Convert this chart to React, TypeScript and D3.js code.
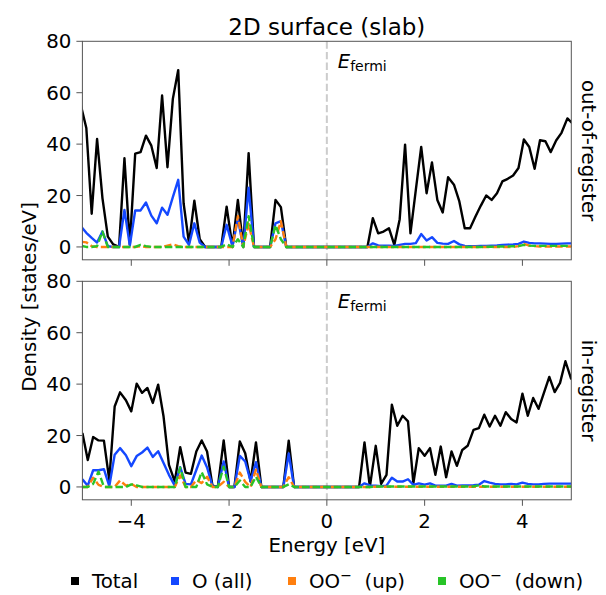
import React from "react";
import * as d3 from "d3";

// ---------- data ----------
const energyTop = [-5.03,-4.92,-4.81,-4.70,-4.59,-4.48,-4.37,-4.25,-4.14,-4.03,-3.92,-3.81,-3.70,-3.59,-3.48,-3.37,-3.26,-3.15,-3.04,-2.93,-2.82,-2.71,-2.60,-2.49,-2.38,-2.27,-2.16,-2.05,-1.93,-1.82,-1.71,-1.60,-1.49,-1.38,-1.27,-1.16,-1.05,-0.94,-0.83,-0.72,-0.61,-0.50,-0.39,-0.28,-0.17,-0.06,0.05,0.16,0.28,0.39,0.50,0.61,0.72,0.83,0.94,1.05,1.16,1.27,1.38,1.49,1.60,1.71,1.82,1.93,2.04,2.15,2.26,2.37,2.48,2.60,2.71,2.82,2.93,3.04,3.15,3.26,3.37,3.48,3.59,3.70,3.81,3.92,4.03,4.14,4.25,4.36,4.47,4.58,4.69,4.80,4.92,5.03];
const totalTop = [55,46.3,12.9,42,19,4,1,0,34.5,1,36.3,36.9,43.3,39.4,30.7,58.9,31,57.6,68.8,17,1.5,18,3,0,0,0,0,15.7,0,18.3,0,36.5,0,0,0,0,18.3,15.5,0,0,0,0,0,0,0,0,0,0,0,0,0,0,0,0,11.2,5.3,6.0,7.3,0.8,10.8,39.8,5.3,22.2,38.9,20.9,32.9,18.3,13.4,27.1,24.2,17.7,7.3,7.3,11.8,16.1,20.0,18.3,20.9,25.5,26.5,27.8,30.7,41.8,38.9,30.4,41.5,41.1,36.9,41.4,44.4,50.0,48];
const oAllTop = [8,5.5,3.5,1.7,6,0.3,0,0,14.4,0.5,14.2,14.2,17.3,12.2,9.2,15.3,12.5,19.4,26.1,4,0.8,9.2,1.7,0,0,0,0,8.6,0.3,11,0,23,0,0,0,0,9.2,10,0,0,0,0,0,0,0,0,0,0,0,0,0,0,0,0,1.4,0.6,0.5,0.5,0.4,0.8,1.2,1.2,1.5,5,2.5,3.8,1.6,1.3,1.2,2.3,1,0.4,0.3,0.3,0.4,0.4,0.5,0.6,0.8,0.9,1.0,1.2,2.1,1.6,1.4,1.4,1.3,1.2,1.2,1.3,1.4,1.4];
const upTop = [2,1.8,0.3,0,0,0,0,0,0,0,0,0.3,0,0,0,0,0.5,1,0.3,0,0,0,0,0,0,0,0,0,0,12,0,9,0,0,0,0,3,10,0,0,0,0,0,0,0,0,0,0,0,0,0,0,0,0,0,0,0,0,0,0,0,0,0,0,0,0,0,0,0,0,0,0,0,0,0,0,0,0,0,0,0,0.3,1.2,0.5,0.3,0.2,0.2,0.2,0.2,0.2,0.2,0.2];
const downTop = [0.5,0,0,0.3,6,0,0,0,0,0,0,0.8,0.3,0,0,0,0,0,0,0,0,0,0,0,0,0,0,1,0,3,0,12,0,0,0,0,8.5,3,0,0,0,0,0,0,0,0,0,0,0,0,0,0,0,0,0,0,0,0,0,0,0,0,0,0,0,0,0,0,0,0,0,0,0,0,0,0.1,0.1,0.2,0.2,0.2,0.3,0.3,0.8,0.5,0.4,0.4,0.4,0.4,0.4,0.4,0.4,0.4];

const energyBottom = [-5.00,-4.89,-4.78,-4.67,-4.56,-4.45,-4.34,-4.23,-4.11,-4.00,-3.89,-3.78,-3.67,-3.56,-3.45,-3.34,-3.23,-3.11,-3.00,-2.89,-2.78,-2.67,-2.56,-2.45,-2.34,-2.23,-2.11,-2.00,-1.89,-1.78,-1.67,-1.56,-1.45,-1.34,-1.23,-1.12,-1.00,-0.89,-0.78,-0.67,-0.56,-0.45,-0.34,-0.23,-0.12,0.00,0.11,0.22,0.33,0.44,0.55,0.66,0.77,0.88,1.00,1.11,1.22,1.33,1.44,1.55,1.66,1.77,1.88,2.00,2.11,2.22,2.33,2.44,2.55,2.66,2.77,2.88,3.00,3.11,3.22,3.33,3.44,3.55,3.66,3.77,3.88,4.00,4.11,4.22,4.33,4.44,4.55,4.66,4.77,4.88,5.00];
const totalBottom = [21,10.5,19.4,18.1,18,2.7,31.3,36.8,33.7,29.4,40.2,36.6,38.5,32.7,39.8,27.4,8.6,2.1,15.5,5.6,5.1,13.8,18.1,13.8,0.5,0,18.1,0,0,17.7,13.1,2.1,17.3,0,0,0,0,0,18,0,0,0,0,0,0,0,0,0,0,0,0,0,17.3,0,16,1.2,4.7,32,23.8,27.7,25.5,1.4,15.1,12.1,15.1,4.7,15.7,3.8,13.8,8.2,14.4,16,22.2,22.9,28.1,23.5,27.7,23.8,29.1,26.4,25.1,36.3,27.7,34.6,30.4,36.6,42.8,36.9,40.5,48.9,41.8];
const oAllBottom = [3,0.5,6.5,6.5,6.9,0.3,12.5,15.1,12.3,8.1,12,13.4,15.3,11.7,13.9,9.3,4.7,0.5,7.7,1.2,1,6.6,12.2,7.6,0.3,0,9.9,0,0,12.1,9.9,2.3,9.6,0,0,0,0,0,13,0,0,0,0,0,0,0,0,0,0,0,0,0,1.4,0.6,0.5,0.3,0.5,3.6,2.1,2.1,3,0.8,1.4,0.9,1.4,0.5,0.5,0.5,1.2,0.5,0.6,0.6,0.7,0.9,2.3,1.7,1.2,1.0,1.0,1.2,1.0,1.7,1.2,1.0,1.0,1.2,1.3,1.3,1.3,1.3,1.3];
const upBottom = [0,0,3.6,0.8,0,0,0,2.5,0.5,1.2,0,0,0,0,0,0,0,0,4.5,0,0,2.6,1.5,4,0,0,2,0,0,5.6,2,0,6.7,0,0,0,0,0,3.8,0,0,0,0,0,0,0,0,0,0,0,0,0,0,0,0.1,0.1,0.1,0.1,0.1,0.1,0.1,0.1,0.1,0.1,0.1,0.1,0.1,0.1,0.1,0.1,0.1,0.1,0.1,0.1,0.1,0.1,0.1,0.1,0.1,0.1,0.1,0.1,0.1,0.1,0.1,0.1,0.1,0.1,0.1,0.1,0.1];
const downBottom = [0,0,1.2,6,0,0,0,0,0,1,0.6,0,0,0,0,0,0,0,7.5,0,0,0,5.8,1,0,0,7.9,0,0,2.5,0,0,4,0,0,0,0,0,1,0,0,0,0,0,0,0,0,0,0,0,0,0,0,0,0.2,0.2,0.2,0.2,0.2,0.2,0.2,0.2,0.2,0.2,0.2,0.2,0.2,0.2,0.2,0.2,0.2,0.2,0.2,0.6,0.2,0.2,0.2,0.2,0.2,0.2,0.2,0.2,0.2,0.2,0.2,0.2,0.2,0.2,0.2,0.2,0.2];

const xTicks = [-4, -2, 0, 2, 4];
const yTicks = [0, 20, 40, 60, 80];
const seriesNames = ["Total", "O (all)", "OO⁻ (up)", "OO⁻ (down)"];
const seriesColors = ["#000000", "#1448ff", "#ff7f0e", "#28c428"];

// ---------- layout ----------
const W = 606, H = 595;
const X0 = 82.4, X1 = 571.3;
const panels = [
  { top: 41.3, bottom: 259.8, label: "out-of-register", energy: energyTop, series: [totalTop, oAllTop, upTop, downTop], showX: false },
  { top: 281.3, bottom: 499.8, label: "in-register", energy: energyBottom, series: [totalBottom, oAllBottom, upBottom, downBottom], showX: true },
];
const FONT = "DejaVu Sans, sans-serif";
const FS = 19.8;
const fmt = (v: number) => (v < 0 ? "\u2212" + Math.abs(v) : String(v));

export default function App() {
  const x = d3.scaleLinear().domain([-5, 5]).range([X0, X1]);
  return (
    <svg width={W} height={H} style={{ position: "absolute", left: 0, top: 0, background: "#fff" }} fontFamily={FONT}>
      <rect x={0} y={0} width={W} height={H} fill="#fff" />
      <text x={(X0 + X1) / 2} y={35} textAnchor="middle" fontSize={23}>2D surface (slab)</text>
      {panels.map((p, pi) => {
        const y = d3.scaleLinear().domain([-5, 80]).range([p.bottom, p.top]);
        const line = d3.line<number>().x((_, i) => x(p.energy[i])).y((d) => y(d));
        const clipId = `clip${pi}`;
        return (
          <g key={pi}>
            <defs>
              <clipPath id={clipId}>
                <rect x={X0} y={p.top} width={X1 - X0} height={p.bottom - p.top} />
              </clipPath>
            </defs>
            <line x1={x(0)} x2={x(0)} y1={p.top} y2={p.bottom} stroke="#cccccc" strokeWidth={2} strokeDasharray="7.4,3.2" />
            <g clipPath={`url(#${clipId})`}>
              {p.series.map((s, si) => (
                <path key={si} d={line(s) || ""} fill="none" stroke={seriesColors[si]} strokeWidth={2.4}
                  strokeLinejoin="round"
                  strokeDasharray={si >= 2 ? "7.4,3.2" : undefined} />
              ))}
            </g>
            <rect x={X0} y={p.top} width={X1 - X0} height={p.bottom - p.top} fill="none" stroke="#555" strokeWidth={1} />
            {yTicks.map((t) => (
              <g key={t}>
                <line x1={X0 - 6} x2={X0} y1={y(t)} y2={y(t)} stroke="#555" strokeWidth={1} />
                <text x={X0 - 11} y={y(t) + 7} textAnchor="end" fontSize={FS}>{t}</text>
              </g>
            ))}
            {xTicks.map((t) => (
              <g key={t}>
                <line x1={x(t)} x2={x(t)} y1={p.bottom} y2={p.bottom + 6} stroke="#555" strokeWidth={1} />
                {p.showX && (
                  <text x={x(t)} y={p.bottom + 28} textAnchor="middle" fontSize={FS}>{fmt(t)}</text>
                )}
              </g>
            ))}
            <text x={x(0) + 11} y={p.top + 27} fontSize={19.5}>
              <tspan fontStyle="italic">E</tspan>
              <tspan fontSize={14} dy={3}>fermi</tspan>
            </text>
            <text transform={`translate(${582},${(p.top + p.bottom) / 2}) rotate(90)`} textAnchor="middle" fontSize={FS}>
              {p.label}
            </text>
          </g>
        );
      })}
      <text transform={`translate(36,${297}) rotate(-90)`} textAnchor="middle" fontSize={FS}>Density [states/eV]</text>
      <text x={(X0 + X1) / 2} y={552} textAnchor="middle" fontSize={FS}>Energy [eV]</text>
      {seriesNames.map((n, i) => {
        const mx = [75, 175, 292, 442][i];
        const parts = n.split("⁻");
        return (
          <g key={n}>
            <rect x={mx - 4} y={577} width={8} height={8} fill={seriesColors[i]} />
            <text x={mx + 17} y={588} fontSize={FS}>
              {parts.length > 1 ? (
                <>
                  {parts[0]}
                  <tspan fontSize={14} dy={-8}>{"\u2212"}</tspan>
                  <tspan dy={8}>{"\u00a0" + parts[1]}</tspan>
                </>
              ) : n}
            </text>
          </g>
        );
      })}
    </svg>
  );
}
